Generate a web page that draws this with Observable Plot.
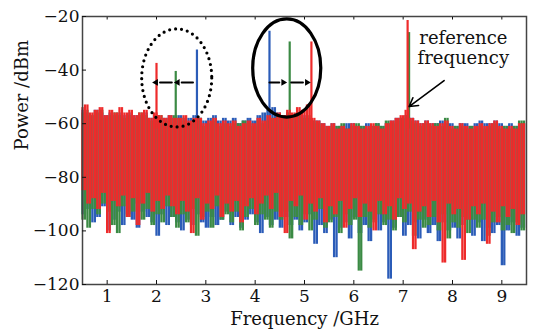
<!DOCTYPE html>
<html><head><meta charset="utf-8">
<script src="https://cdn.jsdelivr.net/npm/d3@7"></script>
<script src="https://cdn.jsdelivr.net/npm/@observablehq/plot@0.6"></script>
<style>
body{margin:0;background:#fff;}
#chart svg{display:block;}
</style>
</head><body><div id="chart"></div>
<script>
// frequency bins (GHz), 0.1 GHz apart, 0.5 .. 9.4
const binStart = 0.5, binStep = 0.1, binCount = 90;
// noise envelope (dBm): upper and lower excursion per bin
const redHi = [-54,-53,-56,-55,-54,-57,-55,-56,-54,-56,
  -55,-57,-56,-55,-58,-56,-57,-58,-57,-58,
  -58,-57,-59,-58,-58,-60,-59,-58,-60,-59,
  -60,-59,-61,-60,-59,-60,-58,-59,-57,-58,
  -56,-57,-55,-56,-54,-55,-53,-58,-59,-60,
  -61,-60,-62,-61,-62,-60,-61,-62,-61,-60,
  -61,-62,-60,-59,-58,-57,-55,-58,-59,-60,
  -59,-60,-61,-60,-59,-61,-62,-60,-61,-62,
  -61,-60,-61,-60,-59,-61,-62,-61,-62,-60];
const redLo = [-85,-90,-88,-92,-86,-101,-89,-91,-87,-95,
  -88,-98,-90,-86,-93,-89,-92,-87,-91,-94,
  -89,-93,-101,-88,-96,-90,-92,-87,-95,-90,
  -93,-89,-97,-91,-88,-94,-90,-87,-92,-86,
  -95,-101,-89,-91,-87,-96,-90,-93,-88,-97,
  -91,-94,-89,-99,-92,-88,-95,-90,-93,-100,
  -89,-94,-91,-96,-88,-92,-90,-107,-93,-91,
  -95,-89,-97,-112,-90,-94,-92,-111,-96,-91,
  -94,-90,-105,-93,-97,-91,-95,-92,-98,-94];
const greenHi = [-56,-55,-57,-56,-55,-58,-57,-56,-57,-58,
  -57,-58,-56,-57,-59,-58,-57,-59,-58,-57,
  -58,-59,-60,-59,-58,-61,-60,-59,-61,-60,
  -61,-60,-60,-59,-60,-61,-59,-60,-59,-58,
  -57,-58,-56,-57,-56,-58,-57,-59,-60,-61,
  -62,-61,-61,-60,-62,-61,-60,-61,-62,-61,
  -60,-61,-59,-60,-59,-58,-57,-59,-60,-61,
  -60,-61,-60,-61,-58,-62,-61,-61,-62,-61,
  -62,-61,-62,-61,-60,-62,-61,-62,-61,-59];
const greenLo = [-96,-99,-92,-94,-90,-93,-98,-101,-91,-95,
  -93,-90,-96,-92,-98,-94,-97,-91,-95,-99,
  -94,-97,-92,-102,-95,-93,-99,-91,-96,-94,
  -97,-93,-100,-95,-92,-98,-94,-96,-99,-93,
  -96,-93,-103,-95,-98,-94,-100,-96,-92,-99,
  -97,-95,-101,-94,-98,-96,-115,-95,-99,-97,
  -94,-98,-96,-100,-95,-97,-93,-102,-96,-99,
  -98,-95,-100,-94,-103,-97,-99,-95,-101,-96,
  -99,-96,-102,-97,-95,-100,-98,-101,-97,-100];
const blueHi = [-55,-56,-57,-55,-56,-57,-56,-57,-56,-57,
  -56,-57,-57,-56,-58,-57,-58,-58,-57,-58,
  -57,-58,-58,-57,-58,-59,-58,-57,-59,-58,
  -59,-58,-60,-59,-58,-59,-57,-56,-55,-54,
  -56,-57,-56,-57,-56,-57,-58,-59,-59,-60,
  -61,-60,-61,-61,-60,-60,-61,-61,-60,-61,
  -60,-61,-60,-59,-58,-58,-57,-58,-59,-60,
  -59,-60,-60,-59,-60,-60,-61,-60,-60,-61,
  -60,-59,-60,-60,-59,-60,-61,-60,-61,-60];
const blueLo = [-94,-92,-97,-95,-91,-100,-96,-93,-98,-94,
  -96,-99,-93,-95,-97,-102,-94,-98,-95,-97,
  -100,-96,-98,-94,-97,-99,-95,-98,-96,-93,
  -98,-95,-99,-96,-94,-97,-101,-95,-98,-96,
  -99,-95,-98,-96,-100,-97,-94,-105,-98,-101,
  -96,-110,-99,-97,-103,-95,-101,-98,-104,-96,
  -100,-97,-118,-99,-95,-102,-98,-97,-103,-96,
  -101,-98,-104,-97,-100,-99,-103,-98,-96,-102,
  -97,-104,-99,-101,-98,-113,-100,-97,-102,-99];

// discrete tones
const spikeFreq = [2.0, 2.39, 2.82, 4.29, 4.70, 5.14, 7.09, 7.12];
const spikeTop  = [-37.5, -40.5, -32.5, -25.5, -29.5, -29.5, -21.5, -26];
const spikeSeries = ["red","green","blue","blue","green","red","red","green"];

// annotations (data coordinates)
const arrowX1 = [2.31, 2.74, 4.29, 4.73];
const arrowX2 = [1.99, 2.43, 4.57, 5.05];
const arrowY = -44.6;
const ellipseCx = [2.42, 4.65], ellipseCy = [-43.1, -39.4];
const ellipseRx = [0.71, 0.69], ellipseRy = [18.3, 18.3], ellipseDotted = [true, false];
const xTicks = [1,2,3,4,5,6,7,8,9];
const yTicks = [-120,-100,-80,-60,-40,-20];

const colors = {red:"#ee2b2b", green:"#3b8a44", blue:"#2b5cb8"};

// each bin: one vertical stroke at the bin start and one half a bin later,
// spanning the bin's excursion between upper and lower envelope values
function strokes(hi, lo){
  const out = [];
  for (let i = 0; i < binCount; i++) {
    const f = binStart + i*binStep;
    const nextHi = i + 1 < binCount ? hi[i+1] : hi[i];
    out.push({f, a: hi[i], b: lo[i]});
    out.push({f: f + binStep/2, a: nextHi, b: lo[i]});
  }
  return out;
}
const spikes = spikeFreq.map((f,i)=>({f, top: spikeTop[i], s: spikeSeries[i]}));
const arrows = arrowX1.map((x1,i)=>({x1, x2: arrowX2[i], y: arrowY, rot: arrowX2[i] < x1 ? -90 : 90}));

const font = "DejaVu Serif, serif";
const layers = [];
for (const s of ["blue","green","red"]) {
  const hi = s==="red"?redHi:s==="green"?greenHi:blueHi;
  const lo = s==="red"?redLo:s==="green"?greenLo:blueLo;
  layers.push(Plot.ruleX(strokes(hi, lo), {x:"f", y1:"a", y2:"b", stroke: colors[s], strokeWidth: 2.3}));
  layers.push(Plot.ruleX(spikes.filter(d=>d.s===s), {x:"f", y1:-62, y2:"top", stroke: colors[s], strokeWidth: 2.2}));
}

const plot = Plot.plot({
  width: 538, height: 331,
  marginLeft: 82, marginRight: 12, marginTop: 16, marginBottom: 47,
  style: {fontFamily: font, fontSize: "16px", color: "#111", background: "#fff"},
  x: {domain: [0.5, 9.5]},
  y: {domain: [-120, -20]},
  marks: [
    ...layers,
    Plot.frame({stroke: "#444", strokeWidth: 1.5}),
    Plot.axisX({ticks: xTicks, tickSize: -4, tickPadding: 9, tickFormat: d=>String(d), label: null, fontSize: 17}),
    Plot.axisX({anchor: "top", ticks: xTicks, tickSize: -2.5, tickFormat: ()=>"", label: null}),
    Plot.axisY({ticks: yTicks, tickSize: -4, tickPadding: 7, label: null, fontSize: 17}),
    Plot.arrow(arrows, {x1:"x1", x2:"x2", y1:"y", y2:"y", stroke:"#000", strokeWidth: 2, headLength: 0, insetEnd: 4}),
    Plot.dot(arrows, {x:"x2", y:"y", symbol:"triangle2", r: 3.2, fill:"#000", rotate:"rot"}),
    Plot.arrow([{x1:7.83, y1:-43.9, x2:7.12, y2:-53.6}], {x1:"x1", y1:"y1", x2:"x2", y2:"y2", stroke:"#000", strokeWidth: 1.6, headLength: 9, bend: false}),
    Plot.text(["reference\nfrequency"], {x: 8.22, y: -31.5, text: d=>d, fontSize: 18, lineHeight: 1.1, fill:"#111"}),
    Plot.text(["Frequency /GHz"], {frameAnchor: "bottom", dy: 40, text: d=>d, fontSize: 18, fill:"#111"}),
    Plot.text(["Power /dBm"], {frameAnchor: "left", dx: -60, rotate: -90, text: d=>d, fontSize: 18, fill:"#111"})
  ]
});
document.getElementById("chart").append(plot);

const sx = plot.scale("x"), sy = plot.scale("y");
const svg = d3.select(plot);
ellipseCx.forEach((cx,i)=>{
  const px = sx.apply(cx), py = sy.apply(ellipseCy[i]);
  const rx = Math.abs(sx.apply(cx + ellipseRx[i]) - px);
  const ry = Math.abs(sy.apply(ellipseCy[i] + ellipseRy[i]) - py);
  const e = svg.append("ellipse").attr("cx", px).attr("cy", py).attr("rx", rx).attr("ry", ry)
    .attr("fill","none").attr("stroke","#000");
  if (ellipseDotted[i]) e.attr("stroke-width", 3.2).attr("stroke-dasharray","0 6").attr("stroke-linecap","round");
  else e.attr("stroke-width", 3.2);
});
</script>
</body></html>
